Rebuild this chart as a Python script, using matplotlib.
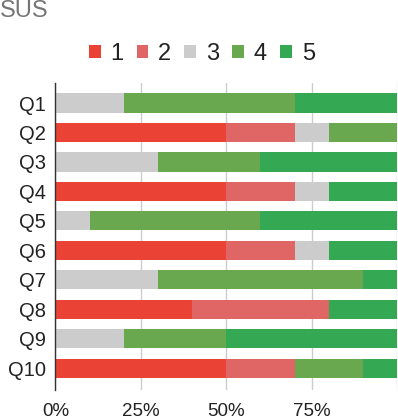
import matplotlib
matplotlib.use("Agg")
import matplotlib.pyplot as plt
import numpy as np

plt.rcParams['font.family'] = ['Liberation Sans', 'DejaVu Sans']

questions = ["Q1", "Q2", "Q3", "Q4", "Q5", "Q6", "Q7", "Q8", "Q9", "Q10"]
series_names = ["1", "2", "3", "4", "5"]
s1 = [0, 50, 0, 50, 0, 50, 0, 40, 0, 50]
s2 = [0, 20, 0, 20, 0, 20, 0, 40, 0, 20]
s3 = [20, 10, 30, 10, 10, 10, 30, 0, 20, 0]
s4 = [50, 20, 30, 0, 50, 0, 60, 0, 30, 20]
s5 = [30, 0, 40, 20, 40, 20, 10, 20, 50, 10]
x_ticks = [0, 25, 50, 75, 100]
x_tick_labels = ["0%", "25%", "50%", "75%", ""]

colors = ["#EA4335", "#E06666", "#CCCCCC", "#6AA84F", "#34A853"]

fig = plt.figure(figsize=(3.98, 4.19), dpi=100)
ax = fig.add_axes([0.139, 0.069, 0.859, 0.733])

y = np.arange(len(questions))
left = np.zeros(len(questions))
for name, vals, c in zip(series_names, [s1, s2, s3, s4, s5], colors):
    vals = np.array(vals, dtype=float)
    ax.barh(y, vals, left=left, height=0.65, color=c, label=name, zorder=2)
    left += vals

ax.set_xlim(0, 100)
ax.set_ylim(9.74, -0.68)
ax.set_yticks(y)
ax.set_yticklabels(questions, fontsize=14.5, color="#222222")
ax.set_xticks(x_ticks)
ax.set_xticklabels(x_tick_labels, fontsize=13.5, color="#222222")
ax.tick_params(axis='both', length=0)
ax.tick_params(axis='x', pad=9)
ax.tick_params(axis='y', pad=7)
ax.grid(axis='x', color="#CCCCCC", linewidth=1, zorder=0)
ax.set_axisbelow(True)
for s in ["top", "right", "bottom"]:
    ax.spines[s].set_visible(False)
ax.spines["left"].set_color("#333333")
ax.spines["left"].set_linewidth(1)
ax.spines["left"].set_zorder(3)

fig.text(0.0, 0.96, "SUS", fontsize=17, color="#757575", ha="left", va="baseline")

handles, labels = ax.get_legend_handles_labels()
fig.legend(handles, labels, loc="center", bbox_to_anchor=(0.507, 0.872), ncol=5,
           frameon=False, fontsize=17, handlelength=0.5, handleheight=0.5,
           handletextpad=0.42, columnspacing=0.55, labelcolor="#222222")

fig.savefig("out.png", dpi=100)
